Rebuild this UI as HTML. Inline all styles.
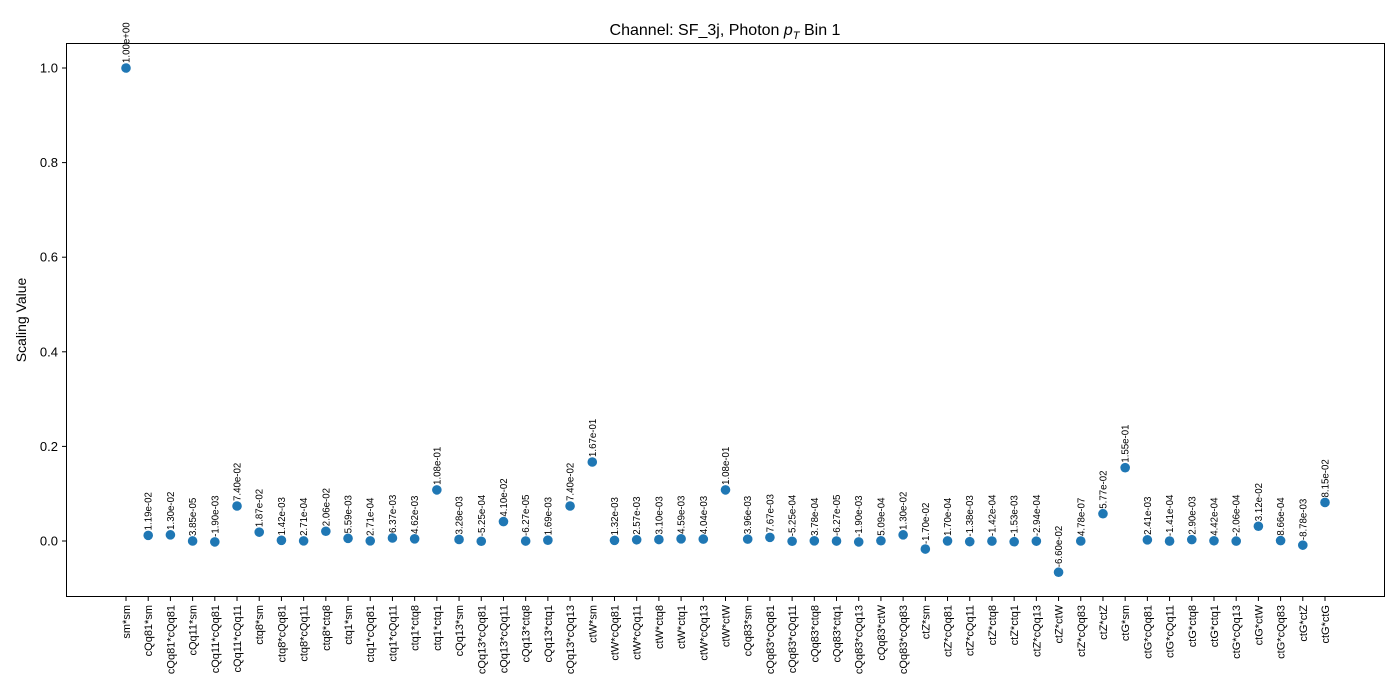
<!DOCTYPE html>
<html><head><meta charset="utf-8"><style>body{margin:0;background:#fff}svg{display:block;font-family:"Liberation Sans","DejaVu Sans",sans-serif}</style></head>
<body>
<svg id="chart" width="1400" height="700">
<rect x="0" y="0" width="1400" height="700" fill="#fff"/>
<text x="725" y="35" text-anchor="middle" font-size="16">Channel: SF_3j, Photon <tspan font-style="italic">p</tspan><tspan font-size="11" dy="4" font-style="italic">T</tspan><tspan dy="-4"> Bin 1</tspan></text>
<text transform="translate(26,320) rotate(-90)" text-anchor="middle" font-size="14">Scaling Value</text>
<g id="axes"></g>
<g id="marks"></g>
<rect x="66.5" y="43.5" width="1318" height="553" fill="none" stroke="#000" stroke-width="1"/>
</svg>
<script>
const categories = ["sm*sm","cQq81*sm","cQq81*cQq81","cQq11*sm","cQq11*cQq81","cQq11*cQq11","ctq8*sm","ctq8*cQq81","ctq8*cQq11","ctq8*ctq8","ctq1*sm","ctq1*cQq81","ctq1*cQq11","ctq1*ctq8","ctq1*ctq1","cQq13*sm","cQq13*cQq81","cQq13*cQq11","cQq13*ctq8","cQq13*ctq1","cQq13*cQq13","ctW*sm","ctW*cQq81","ctW*cQq11","ctW*ctq8","ctW*ctq1","ctW*cQq13","ctW*ctW","cQq83*sm","cQq83*cQq81","cQq83*cQq11","cQq83*ctq8","cQq83*ctq1","cQq83*cQq13","cQq83*ctW","cQq83*cQq83","ctZ*sm","ctZ*cQq81","ctZ*cQq11","ctZ*ctq8","ctZ*ctq1","ctZ*cQq13","ctZ*ctW","ctZ*cQq83","ctZ*ctZ","ctG*sm","ctG*cQq81","ctG*cQq11","ctG*ctq8","ctG*ctq1","ctG*cQq13","ctG*ctW","ctG*cQq83","ctG*ctZ","ctG*ctG"];
const values = [1.00e+00,1.19e-02,1.30e-02,3.85e-05,-1.90e-03,7.40e-02,1.87e-02,1.42e-03,2.71e-04,2.06e-02,5.59e-03,2.71e-04,6.37e-03,4.62e-03,1.08e-01,3.28e-03,-5.25e-04,4.10e-02,-6.27e-05,1.69e-03,7.40e-02,1.67e-01,1.32e-03,2.57e-03,3.10e-03,4.59e-03,4.04e-03,1.08e-01,3.96e-03,7.67e-03,-5.25e-04,3.78e-04,-6.27e-05,-1.90e-03,5.09e-04,1.30e-02,-1.70e-02,1.70e-04,-1.38e-03,-1.42e-04,-1.53e-03,-2.94e-04,-6.60e-02,4.78e-07,5.77e-02,1.55e-01,2.41e-03,-1.41e-04,2.90e-03,4.42e-04,-2.06e-04,3.12e-02,8.66e-04,-8.78e-03,8.15e-02];
const yTicks = [0.0,0.2,0.4,0.6,0.8,1.0];
const yTickLabels = ["0.0","0.2","0.4","0.6","0.8","1.0"];
const NS="http://www.w3.org/2000/svg";
const x0=126, x1=1325, y0px=541, y1px=68;
function xScale(i){return x0+(x1-x0)*i/(categories.length-1);}
function yScale(v){return y0px+(y1px-y0px)*v;}
function fmt(v){let s=v.toExponential(2);let m=s.match(/^(-?[\d.]+)e([+-])(\d+)$/);return m[1]+"e"+m[2]+(m[3].length<2?"0"+m[3]:m[3]);}
const axes=document.getElementById('axes'), marks=document.getElementById('marks');
yTicks.forEach((t,i)=>{
  const y=yScale(t);
  const l=document.createElementNS(NS,'line');
  l.setAttribute('x1',62);l.setAttribute('x2',66);l.setAttribute('y1',y);l.setAttribute('y2',y);l.setAttribute('stroke','#000');
  
  
  axes.appendChild(l);
  const tx=document.createElementNS(NS,'text');
  tx.setAttribute('x',58);tx.setAttribute('y',y+4.5);tx.setAttribute('text-anchor','end');tx.setAttribute('font-size','13');
  tx.textContent=yTickLabels[i];
  
  
  axes.appendChild(tx);
});
categories.forEach((c,i)=>{
  const x=xScale(i);
  const l=document.createElementNS(NS,'line');
  l.setAttribute('x1',x);l.setAttribute('x2',x);l.setAttribute('y1',597);l.setAttribute('y2',601);l.setAttribute('stroke','#000');
  
  
  axes.appendChild(l);
  const tx=document.createElementNS(NS,'text');
  tx.setAttribute('transform',`translate(${x+4},${605}) rotate(-90)`);
  tx.setAttribute('text-anchor','end');tx.setAttribute('font-size','11');
  tx.textContent=c;
  
  
  axes.appendChild(tx);
  const v=values[i], y=yScale(v);
  const p=document.createElementNS(NS,'circle');
  p.setAttribute('cx',x);p.setAttribute('cy',y);p.setAttribute('r',4.8);p.setAttribute('fill','#1f77b4');
  
  
  marks.appendChild(p);
  const lb=document.createElementNS(NS,'text');
  lb.setAttribute('transform',`translate(${x+3.5},${y-5}) rotate(-90)`);
  lb.setAttribute('font-size','9.7');
  lb.textContent=fmt(v);
  
  
  marks.appendChild(lb);
});
</script>
</body></html>
